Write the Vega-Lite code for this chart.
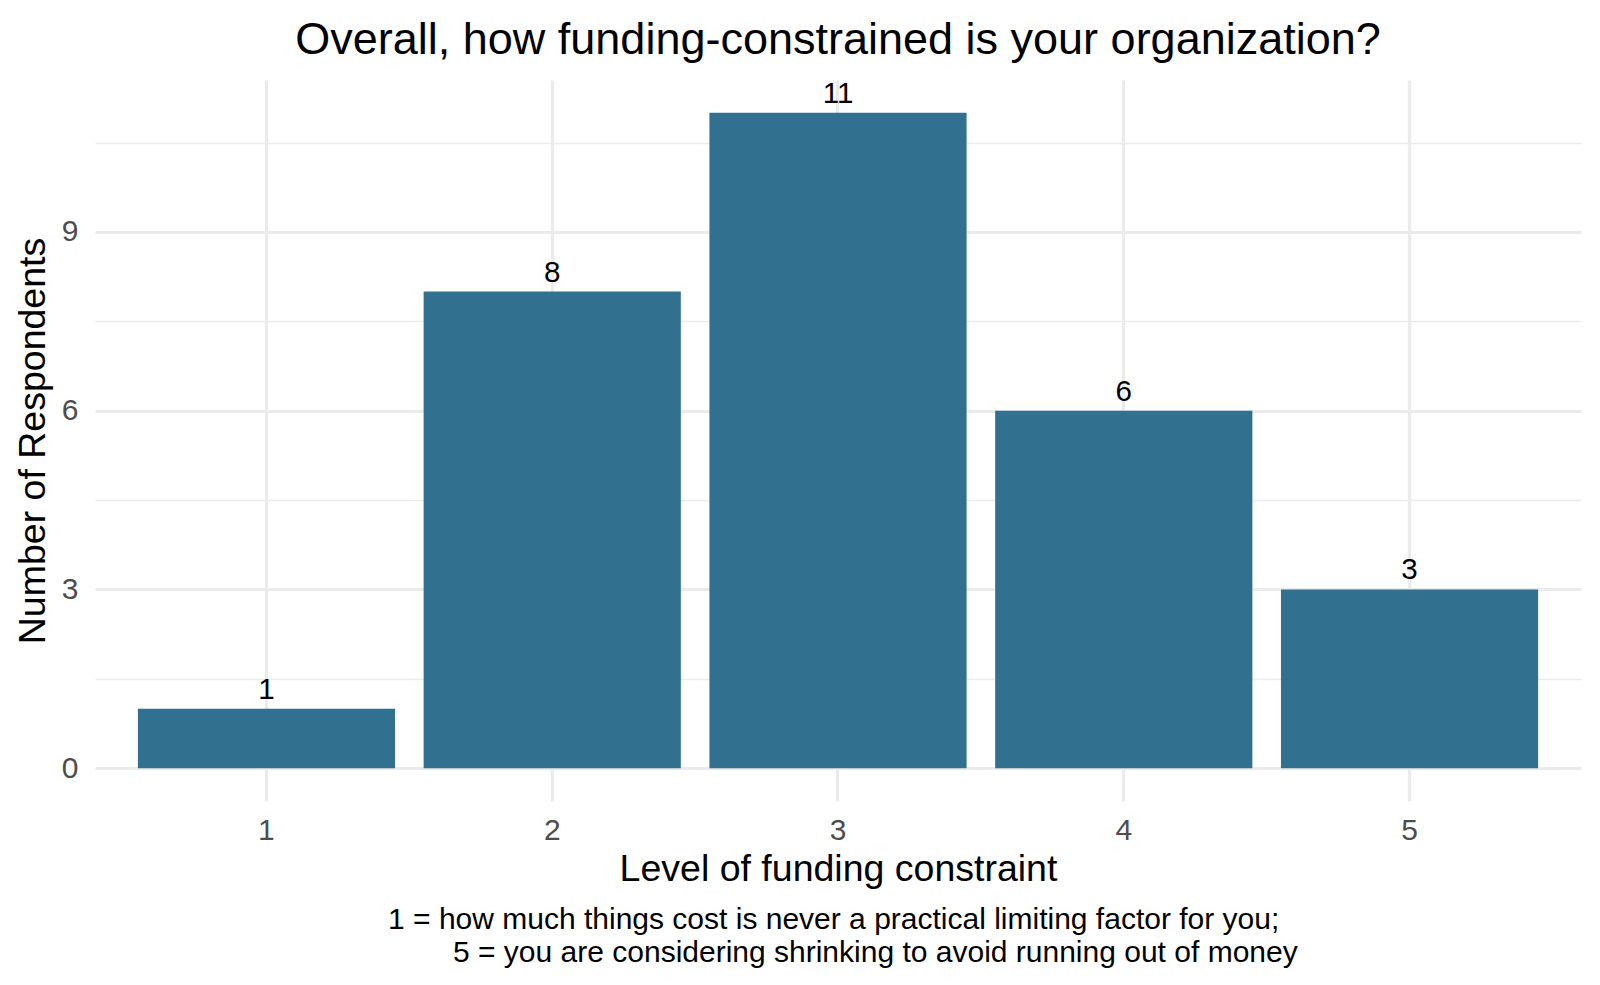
{
  "$schema": "https://vega.github.io/schema/vega-lite/v6.json",
  "background": "white",
  "padding": {"left": 14, "top": 17, "right": 19, "bottom": 10},
  "config": {"font": "Liberation Sans", "view": {"stroke": null}},
  "title": {
    "text": ["1 = how much things cost is never a practical limiting factor for you;", "\u200b\u00a0\u00a0\u00a0\u00a0\u00a0\u00a0\u00a0\u00a0\u00a0\u00a05 = you are considering shrinking to avoid running out of money"],
    "orient": "bottom", "anchor": "middle", "fontSize": 30, "fontWeight": "normal", "color": "black",
    "lineHeight": 32.5, "offset": 17, "dx": 36
  },
  "vconcat": [
    {
      "width": 1486,
      "height": 721,
      "title": {
        "text": "Overall, how funding-constrained is your organization?",
        "fontSize": 45, "fontWeight": "normal", "anchor": "middle", "frame": "group",
        "baseline": "alphabetic", "offset": -20, "color": "black"
      },
      "data": {"values": [
        {"level": 1, "n": 1},
        {"level": 2, "n": 8},
        {"level": 3, "n": 11},
        {"level": 4, "n": 6},
        {"level": 5, "n": 3}
      ]},
      "encoding": {
        "x": {
          "field": "level", "type": "ordinal",
          "scale": {"paddingInner": 0.1, "paddingOuter": 0.15},
          "axis": {
            "title": "Level of funding constraint", "titleFontSize": 37.5, "titleFontWeight": "normal",
            "titleColor": "black", "titlePadding": 5, "labelFontSize": 30, "labelColor": "#4d4d4d",
            "labelPadding": 14.5, "labelAngle": 0, "ticks": false, "tickSize": 0, "domain": false,
            "grid": true, "gridColor": "#ebebeb", "gridWidth": 3.2, "bandPosition": 0.5
          }
        },
        "y": {
          "field": "n", "type": "quantitative",
          "scale": {"domain": [-0.55, 11.55], "nice": false, "zero": false},
          "axis": {
            "title": "Number of Respondents", "titleFontSize": 37.5, "titleFontWeight": "normal",
            "titleColor": "black", "titlePadding": 9, "labelFontSize": 30, "labelColor": "#4d4d4d",
            "labelPadding": 17, "ticks": false, "tickSize": 0, "domain": false,
            "values": [0, 1.5, 3, 4.5, 6, 7.5, 9, 10.5],
            "labelExpr": "datum.value % 3 === 0 ? datum.label : ''",
            "grid": true, "gridColor": "#ebebeb",
            "gridWidth": {"condition": {"test": "datum.value % 3 !== 0", "value": 1.6}, "value": 3.2}
          }
        }
      },
      "layer": [
        {"mark": {"type": "bar", "color": "#31718f"}},
        {
          "mark": {"type": "text", "baseline": "alphabetic", "dy": -10, "fontSize": 29.6, "color": "black"},
          "encoding": {"text": {"field": "n", "type": "quantitative"}}
        }
      ]
    }
  ]
}
